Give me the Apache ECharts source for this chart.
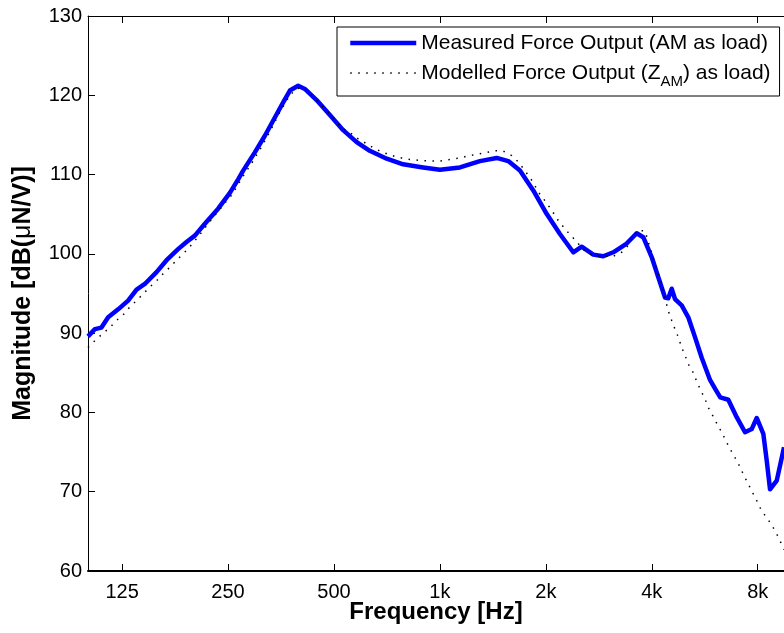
<!DOCTYPE html>
<html>
<head>
<meta charset="utf-8">
<script src="https://cdn.jsdelivr.net/npm/echarts@6/dist/echarts.min.js"></script>
<style>
html,body{margin:0;padding:0;background:#fff;}
#chart{width:784px;height:633px;}
</style>
</head>
<body>
<div id="chart"></div>
<script>
// Measured force output (AM as load)
const freqMeasured = [100,104.6,109.2,114.1,121.8,130,137.4,145,156.6,167.2,180.3,190.5,201.2,214.8,234.3,253,267.1,276,297.9,318.1,339.6,358.6,374.7,395.5,413.3,446.2,486.8,531,580,632,706,786,896,1000,1140,1299,1450,1564,1688,1842,2010,2193,2393,2528,2728,2912,3109,3393,3623,3783,3997,4174,4361,4456,4556,4656,4864,5079,5307,5545,5855,6050,6260,6599,6972,7361,7691,7947,8298,8485,8670,9059,9502];
const magMeasured  = [89.6,90.5,90.7,92.0,93.0,94.1,95.5,96.2,97.7,99.2,100.6,101.5,102.3,103.8,105.7,107.7,109.4,110.5,112.8,114.9,117.2,119.1,120.6,121.2,120.8,119.4,117.5,115.6,114.1,113.0,112.0,111.3,110.9,110.6,110.9,111.7,112.1,111.7,110.5,108.0,105.05,102.5,100.2,100.9,99.9,99.7,100.2,101.3,102.6,102.1,99.6,97.05,94.5,94.4,95.6,94.3,93.5,92.0,89.5,86.9,84.1,83.0,81.9,81.6,79.4,77.5,77.9,79.3,77.3,73.9,70.3,71.4,75.6];

// Modelled force output (Z_AM as load)
const freqModel = [100,104.6,109.2,115.3,120.5,125.8,131.5,137.4,143.4,149.8,156.6,163.5,170.8,178.5,186.3,194.7,203.4,210.2,219.5,226.8,236.9,244.8,255.8,264.3,273.1,291.6,311.3,332.3,350.9,374.7,391.4,408.8,427,446.2,481.4,508.6,531,561,585.9,618.9,653.6,690,729,778.3,821.8,877.3,936.7,1000,1067.6,1140,1217,1285,1357.6,1433,1513,1599,1669.6,1744,1842,1903,1988,2077.5,2169,2291,2393,2500,2583,2728,2912,3109,3285,3430,3623,3826,3953,4084,4174,4268,4313,4456,4556,4656,4757,4864,4971,5079,5249,5366,5509,5666,5790,5959,6141,6320,6500,6674,6895,7092,7280,7474,7691,7911,8121,8391,8710,9017,9257,9500];
const magModel  = [88.2,89.05,89.8,90.7,91.6,92.3,93.3,94.1,94.95,95.8,96.6,97.5,98.3,99.2,100.0,100.9,101.9,102.7,103.8,104.6,105.6,106.4,107.4,108.4,109.5,111.4,113.5,115.8,117.9,120.0,120.8,121.0,120.2,119.4,117.9,116.6,115.8,115.15,114.5,113.9,113.25,112.8,112.4,112.1,111.9,111.8,111.7,111.7,111.9,112.1,112.4,112.6,112.8,113.0,112.96,112.4,111.6,110.5,109.0,107.8,106.7,105.5,104.2,102.9,102.0,101.05,100.4,99.8,99.7,99.7,100.2,101.05,102.9,102.9,100.8,98.7,97.5,96.2,95.2,92.8,91.6,90.5,89.5,88.2,87.2,86.1,85.0,83.9,82.8,81.7,80.6,79.6,78.5,77.5,76.4,75.4,74.3,73.3,72.2,71.2,70.1,69.06,68.0,67.0,66.0,64.85,63.8,62.7];

// Axis ticks
const xTicks = [125,250,500,1000,2000,4000,8000];
const xTickLabels = ['125','250','500','1k','2k','4k','8k'];
const xMin = 100, xMax = 9500;
const yMin = 60, yMax = 130, yStep = 10;

const FONT = '"Liberation Sans", Arial, Helvetica, sans-serif';

const chart = echarts.init(document.getElementById('chart'), null, {renderer: 'canvas'});

function xLabel(v) {
  const r = Math.round(v);
  const i = xTicks.findIndex(t => Math.abs(t - r) < 1);
  return i >= 0 ? xTickLabels[i] : '';
}

const option = {
  animation: false,
  backgroundColor: '#ffffff',
  grid: {left: 88, top: 16, right: 0, bottom: 62},
  legend: {
    orient: 'vertical',
    left: 337,
    top: 27,
    padding: [6, 9, 7, 11],
    itemWidth: 66,
    itemHeight: 14,
    itemGap: 9,
    borderColor: '#000',
    borderWidth: 1,
    backgroundColor: '#fff',
    itemStyle: {color: 'rgba(0,0,0,0)', borderColor: 'rgba(0,0,0,0)', borderWidth: 0},
    lineStyle: {width: 'inherit'},
    data: ['measured', 'model'],
    formatter: function (name) {
      if (name === 'measured') return '{a|Measured Force Output (AM as load)}';
      return '{a|Modelled Force Output (Z}{s|AM}{a|) as load)}';
    },
    textStyle: {
      color: '#000',
      fontFamily: FONT,
      fontSize: 21,
      rich: {
        a: {fontSize: 21, lineHeight: 20, fontFamily: FONT, color: '#000', verticalAlign: 'top'},
        s: {fontSize: 15, lineHeight: 15, fontFamily: FONT, color: '#000', verticalAlign: 'top', padding: [11, 0, 0, 0]}
      }
    }
  },
  xAxis: [{
    type: 'log',
    logBase: 2,
    min: xMin,
    max: xMax,
    position: 'bottom',
    name: 'Frequency [Hz]',
    nameLocation: 'middle',
    nameGap: 29,
    nameMoveOverlap: false,
    nameTextStyle: {fontFamily: FONT, fontSize: 24, fontWeight: 'bold', color: '#000'},
    axisLine: {show: true, onZero: false, lineStyle: {color: '#000', width: 2}},
    axisTick: {show: true, inside: true, length: 7, customValues: xTicks, lineStyle: {color: '#000', width: 1}},
    minorTick: {show: false},
    axisLabel: {show: true, customValues: xTicks, margin: 11, fontFamily: FONT, fontSize: 20, color: '#000', formatter: xLabel},
    splitLine: {show: false},
    minorSplitLine: {show: false}
  }, {
    type: 'log',
    logBase: 2,
    min: xMin,
    max: xMax,
    position: 'top',
    axisLine: {show: true, onZero: false, lineStyle: {color: '#000', width: 1}},
    axisTick: {show: true, inside: true, length: 7, customValues: xTicks, lineStyle: {color: '#000', width: 1}},
    axisLabel: {show: false},
    splitLine: {show: false}
  }],
  yAxis: [{
    type: 'value',
    min: yMin,
    max: yMax,
    interval: yStep,
    position: 'left',
    name: 'Magnitude [dB({m|μ}N/V)]',
    nameLocation: 'middle',
    nameGap: 52,
    nameMoveOverlap: false,
    nameTextStyle: {
      fontFamily: FONT, fontSize: 25, fontWeight: 'bold', color: '#000',
      rich: {m: {fontFamily: FONT, fontSize: 25, fontWeight: 'normal', color: '#000'}}
    },
    axisLine: {show: true, onZero: false, lineStyle: {color: '#000', width: 1}},
    axisTick: {show: true, inside: true, length: 7, lineStyle: {color: '#000', width: 1}},
    axisLabel: {margin: 6, fontFamily: FONT, fontSize: 20, color: '#000'},
    splitLine: {show: false}
  }],
  series: [{
    name: 'measured',
    type: 'line',
    xAxisIndex: 0,
    yAxisIndex: 0,
    data: freqMeasured.map((f, i) => [f, magMeasured[i]]),
    symbol: 'none',
    showSymbol: false,
    clip: true,
    lineStyle: {color: '#0000ff', width: 4.5, join: 'round'},
    itemStyle: {color: '#0000ff'},
    z: 2
  }, {
    name: 'model',
    type: 'line',
    xAxisIndex: 0,
    yAxisIndex: 0,
    data: freqModel.map((f, i) => [f, magModel[i]]),
    symbol: 'none',
    showSymbol: false,
    clip: true,
    lineStyle: {color: '#000', width: 1.5, type: [1.5, 6.5], cap: 'butt'},
    itemStyle: {color: '#000'},
    z: 3
  }]
};

chart.setOption(option);
</script>
</body>
</html>
